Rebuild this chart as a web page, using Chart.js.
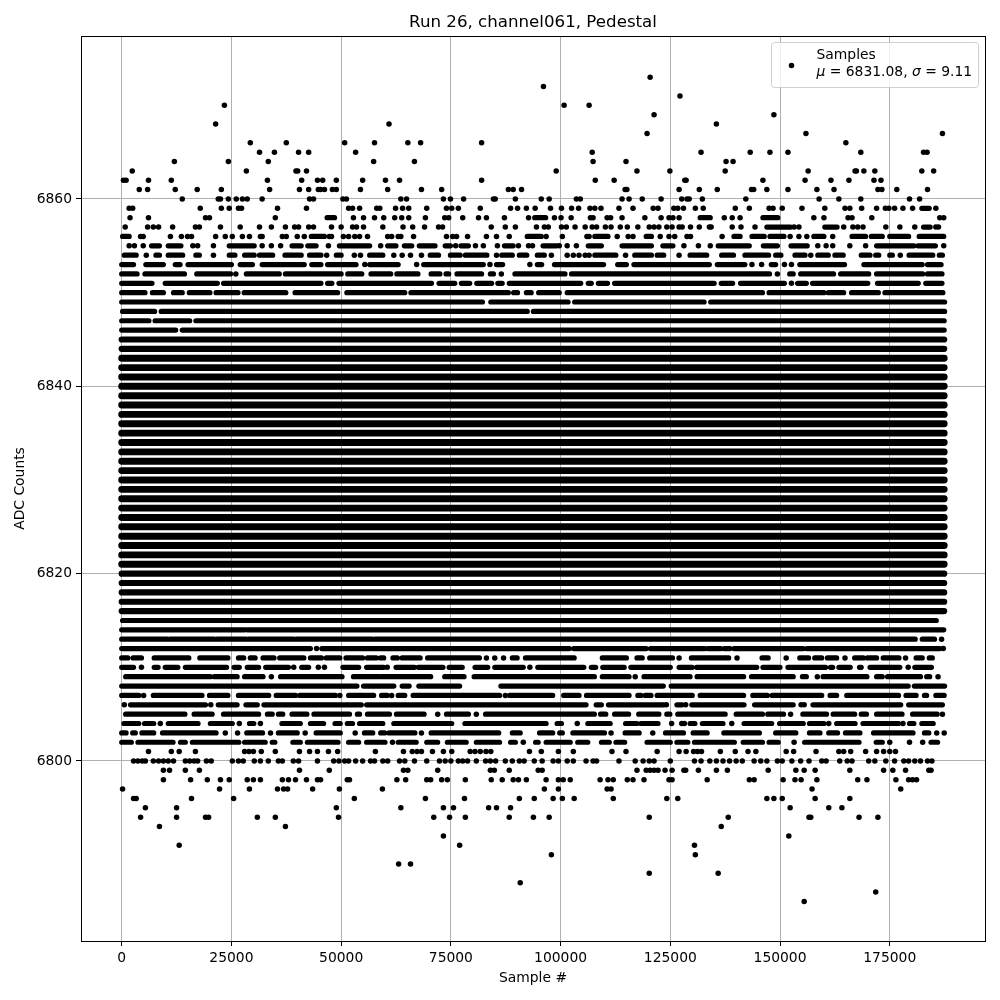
<!DOCTYPE html>
<html>
<head>
<meta charset="utf-8">
<title>Run 26, channel061, Pedestal</title>
<script src="https://cdn.jsdelivr.net/npm/chart.js@4"></script>
<style>
  html, body { margin: 0; padding: 0; background: #fff; }
  canvas { display: block; }
</style>
</head>
<body>
<canvas id="chart" width="1000" height="1000"></canvas>
<script>
// Labels and ticks
const chartTitle = "Run 26, channel061, Pedestal";
const xAxisLabel = "Sample #";
const yAxisLabel = "ADC Counts";
const seriesLabel = "Samples";
const meanLabel = "6831.08";
const sigmaLabel = "9.11";
const xTicks = [0, 25000, 50000, 75000, 100000, 125000, 150000, 175000];
const yTicks = [6800, 6820, 6840, 6860];

// A plain number is one dot, a pair is a run of dots that touch each other.

// rows that are unbroken over the whole run
const coreLevels = [6843, 6842, 6841, 6840, 6839, 6838, 6837, 6836, 6835, 6834, 6833, 6832, 6831, 6830,
  6829, 6828, 6827, 6826, 6825, 6824, 6823, 6822, 6821];
const solidLevels = [6845, 6844, 6820, 6819, 6818, 6817, 6816];
const fullRun = [0, 187.4];

// top edge of the band
const upperLevels = [6873, 6872, 6871, 6870, 6869, 6868, 6867, 6866, 6865, 6864, 6863, 6862, 6861, 6860,
  6859, 6858, 6857, 6856, 6855, 6854, 6853, 6852, 6851, 6850, 6849, 6848, 6847, 6846];
const upperRows = [
  [120.4],
  [96.1],
  [127.2],
  [23.4, 100.8, 106.5],
  [121.3, 148.6],
  [21.4, 60.9, 135.5],
  [119.7, 155.9, 187],
  [29.3, 37.5, 50.8, 57.6, 65.2, 68.1, 82, 165],
  [31.4, 34.8, 40.3, 42.6, 53.3, 107.2, 132, 143.2, 147.7, 151.8, 168.4, 182.7, 183.5],
  [12, 24.3, 33.4, 57.4, 66.7, 107.4, 114.9, 137.7, 139.3],
  [2.4, 28.4, 39.7, 40.1, 42.1, 99, 117.4, 124.9, 137.5, 156.4, 167.1, 167.4, 169.1, 171.6, 182.3, 185],
  [0.4, 1, 6.1, 11.3, 33.2, 41, 44.6, 45.8, 48.9, 54.9, 60.1, 63.3, 82, 107.9, 112.2, 128.3, 128.6, 146.1, 155.7, 161.6, 165.7, 171.4, 173],
  [4, 5.9, 12.2, 17.2, 22.7, 33.7, 40.5, 42.6, 44.8, 45.3, 46.2, 48, 48.9, 54.4, 60.6, 68.3, 72.9, 88.1, 89.2, 91.1, 114.7, 115.1, 127, 131.6, 135.7, 143.5, 144, 147, 151.8, 158.4, 162.3, 172.3, 173.2, 176.6, 183.6],
  [13.8, 22, 22.5, 24.3, 26.1, 27.5, 28.6, 32, 42.8, 43.7, 50.4, 51.2, 63.6, 64.9, 73.3, 74.9, 77.9, 84.7, 85.1, 89.7, 95.6, 97.4, 103.6, 104.5, 114, 115.6, 118.6, 122.9, 127.6, 128.8, 129.3, 132.3, 142.2, 158.9, 163.4, 168.4, 179.5, 181.8],
  [1.7, 2.5, 17.9, 22.7, 24.5, 26.6, 27.3, 35.5, 42.1, 51.7, 52.6, 54.2, 58.1, 58.8, 62.4, 64, 65.4, 69.5, 74, 75.2, 76.7, 81.7, 88.6, 90.2, 92.2, 94.2, 97.7, 100.2, 102.5, 104.1, 106.7, 107.8, 109.2, 113.3, 116.5, 121.1, 122.2, 125.8, 126.7, 128, 130.7, 132.5, 139.8, 143, 147.5, 148.4, 150.5, 155, 160.2, 164.8, 165.9, 168.6, 172, 174, 174.8, 176.1, 178, 180.2, [182.3, 184], 185.5],
  [1.9, 6.1, 19.1, 20, 35, [46.8, 48.5], 52.8, 55.1, 57.6, 59.7, 62.2, 63.8, 65.4, 69.2, 73.6, 74.5, 77.7, 81.3, 83.1, 87.2, 92.7, [94.1, 96.6], 98.6, 100.1, 102.4, 106.8, 107.4, 110.6, 111.4, 114, 119.2, 122.9, 124.7, 125.6, 127, [131.8, 134.1], 137.3, 139.1, 140.9, [146.1, 149.5], 157.7, 160, 165.5, 166.4, 170.9, 186.4, 187.3],
  [0.8, 5.9, 7.2, 8.4, 11.6, 16.8, 17.7, 22.5, 27, 31.4, 34.1, 37.3, 39.4, 40.3, 42.6, 43.7, 47.8, 50, 52.6, 53.5, 55.1, 59.5, 64.1, 66.3, 69, 72.2, 73.1, 84.2, 87.4, 89.7, 94.5, 96.3, 97.2, 100.2, 101.3, 103.3, 105.6, 107.2, 108.2, 110.2, 111.5, 113.6, 115.2, 117.6, 120.2, 121.3, 122.4, 124.2, 125.4, 127, 127.7, 129.6, 131.6, 133.9, 134.3, 139.1, 141.1, 144.3, [147, 152.4], 153.2, 154.3, [160.2, 163], 164.5, 166.6, 167.7, 168.9, 174.1, 177.3, 180.7, [182.7, 184.2], 185.5, 186.1],
  [[0.2, 1.7], 4.3, 4.9, 11.1, 13.6, 15, 15.9, 21.4, 23.6, 25.2, 27.5, 29.1, 31.6, 32, 36.6, 37.5, 40, 41.6, [43.2, 46.2], 47.3, 47.8, 50.5, 51.7, 53.1, 54.2, 56, 60.6, 61.5, 63, 63.6, 66.5, 74, 75.4, 76.3, 78.8, 83.1, 85.4, 88.3, [92.4, 95.6], 96.7, 100.4, 106, 106.5, [107.8, 110.8], 112.9, 115.4, 116.5, [119.5, 120.7], 122.7, 124.7, 126, 128.8, 129.6, 136.8, [139.5, 140.9], [143.6, 146.4], [147.7, 150.9], 152.3, 154.3, 156.1, [157.7, 160], 162, [166.4, 169.5], [170.8, 173.3], [175, 179.3], [181.7, 187.3]],
  [1.7, 2.9, 4.9, [6.8, 8.6], [10.6, 13.5], 16.2, 17.3, 20.9, [24.5, 30.2], 32, 34.1, 36.2, [38.8, 40.9], [42.4, 44.3], 47.1, [49.6, 56.5], 59, [60.6, 62.5], [64.4, 66.1], [67.8, 71.4], [73.7, 74.9], 76.1, [77.3, 79], 80.6, 82.4, 85.6, [87.2, 89.2], 90.4, 92.7, 93.6, [96, 99.1], 99.7, 101.5, 103.6, [106.3, 109.3], [114, 120.7], [123.3, 125.6], 128.1, 131.4, 134.1, [135.9, 143], [146.2, 149.4], [152.5, 156.2], 158.6, 160.5, 162, 165.9, 169.5, [172, 180.5], [181.4, 185.4], 187.3],
  [[0.6, 3.3], 5.6, [7.8, 8.6], [10.6, 13.9], [16.9, 17.7], 20.9, [24.5, 25.8], [28, 30.2], [31.4, 34.4], [37.2, 40.9], [42.8, 45.4], 46.7, [48.9, 50], 53, 54.4, [56.5, 59.5], 62, 63.9, 65.8, 68.3, [70.3, 72.2], [74.9, 77.1], [78.3, 83.2], 85.4, [86.6, 89], [90.6, 92.3], [94.7, 96.3], 97.9, 101.5, 102.9, 104.2, 105.6, 106.5, [107.8, 112.6], 114.8, [116.9, 120.7], [122, 123.5], 127, [129.5, 133.3], [136.7, 139.4], [142, 147.4], [149, 150.2], [153.4, 155.7], 157, [158.6, 161], [162.5, 164.4], [168.5, 170.5], [171.8, 172.5], [175, 175.6], 177.4, [179.4, 184.8], [186.3, 187]],
  [[0, 2.7], [5.5, 9.5], [12.2, 13.3], [15.1, 25], [27, 29.8], [32, 41.6], [43.3, 45.4], [46.9, 53.4], 55.4, [56.5, 63], 67.2, [68.8, 82.4], 83.9, [85.4, 86.8], 93, [94.7, 95.7], [98.6, 109.8], [113, 115], [116.7, 133.9], [135.7, 142], 143.6, 145.8, [148, 149], 151, 152.6, [154.5, 164.7], [169.1, 182.4], [183.6, 186.7]],
  [[0, 3.5], [5.3, 14.3], [17.1, 24.8], 26, [28.4, 35.9], [37.3, 50], [51.5, 54.7], [56.8, 61.3], [62.7, 67.5], [70.5, 72.5], [73.9, 74.5], [76.4, 82], [84, 84.7], 86.5, [89.6, 101], [102.5, 147.6], 149.4, [152.2, 153], [154.7, 162.2], [163.8, 170.2], [172, 182.5], [183.6, 186.9]],
  [[0, 6.9], [9.9, 21.8], [23.2, 45.4], [46.9, 47.9], [49.5, 70.6], [72.3, 75.9], [77.4, 79.3], [80.9, 84.3], [85.7, 86.7], [88.3, 104.6], [106.3, 107], [108.6, 110.7], [112.3, 135], [136.6, 139.2], [141, 151], 152.6, [154, 156], [157.4, 170], [172.2, 181.5], [183.2, 186.9]],
  [[0, 5.3], [7, 9.5], [11.8, 13.8], [15.4, 20.1], [21.5, 26.5], [27.9, 37.4], [39.5, 49.2], [51.3, 64.5], [65.9, 88.1], [89.3, 90.2], [92.2, 93.3], [95, 99.7], [101.5, 146], [147.5, 160], [161, 164.5], [166.3, 172.4], [173.9, 187.1]],
  [[0, 82.2], [84.1, 101.7], [103.2, 132.7], [134.2, 187.5]],
  [[0.2, 7.5], [9, 92.4], [93.8, 187.5]],
  [[0, 6.2], [7.6, 15.5], [16.9, 187.4]],
  [[0, 12.3], [13.8, 187.4]]
];

// bottom edge of the band
const lowerLevels = [6815, 6814, 6813, 6812, 6811, 6810, 6809, 6808, 6807, 6806, 6805, 6804, 6803, 6802, 6801,
  6800, 6799, 6798, 6797, 6796, 6795, 6794, 6793, 6792, 6791, 6790, 6789, 6788, 6787, 6786, 6785];
const lowerRows = [
  [[0.2, 98.6], [99.2, 185.6]],
  [[0, 28], [28.6, 187.3]],
  [[0, 10.4], [11, 21.1], [21.7, 28.3], [28.9, 39.2], [39.8, 57.1], [57.7, 180.8], [182.4, 185.2], 186.8],
  [[0, 43], 44.4, [45.6, 102], [103, 119.5], [120.5, 132.9], [133.6, 136.5], [137.3, 138.6], [139.5, 155.3], [156.1, 186.4], 187.2],
  [[0, 1.4], [2.6, 4.5], [7.4, 15.3], [17.8, 24.2], [26.6, 27.8], [29.3, 30.4], [32.2, 34.7], [36, 41.5], [43, 45.5], [46.6, 49.7], [51.1, 54.9], [56, 58], [59, 59.7], [61.8, 62.8], [63.9, 68], [69.7, 81.5], 83.1, 85, 87, [89, 90.1], [92, 103.1], [109.5, 115], [117.4, 118.6], [120.3, 125.5], 127, [129.8, 138.3], 140.2, [145.9, 147.3], 151.4, [154.5, 156.5], [157.9, 159.5], [160.8, 162.9], 164.8, [167, 169], [169.9, 172], [173.5, 177.1], 178.6, [181, 182.4], [184, 184.7]],
  [[0, 2.7], 4.5, [7.4, 8.3], [9.9, 12.8], [14.5, 23.9], [25.6, 26.8], [28.6, 31.2], [32.8, 38], 39.2, [41, 42.6], 44.8, 46.2, [50.4, 54], [55.8, 59.7], 60.5, [62.5, 66.7], [67.6, 73.2], [74.6, 77.6], [80.5, 83.4], [85, 91.5], 93, [94.8, 105.3], [107, 108], [109.6, 114.5], [116, 125], [127, 130], [131, 144.7], [146.1, 150], [151.8, 160.4], [161.5, 162], [163.4, 166], [168.1, 168.5], [170.5, 177.3], 179.2, [180.7, 184.5]],
  [[0.9, 20.2], [21.1, 26.3], [28, 32.2], 34.1, [36.2, 50.2], [52.8, 58.6], [59, 70.4], [73.6, 78], [80.3, 107.7], [109.5, 115.6], 117, [119, 129.5], [131.1, 141.7], [143.5, 153], [155.1, 156], 158.5, [159.8, 169.8], [172, 173.3], [174.5, 182], [183.4, 184.1], 186],
  [[0, 53.6], [55.1, 62], [63.9, 65.5], [67.7, 77], [86.4, 123.4], [125.2, 179.2], [180.6, 187.5]],
  [[0, 3.9], 5, [7.2, 18.3], [20, 24.2], [26.6, 33.5], [35.2, 39.6], [40.6, 48.7], 49.7, [51.7, 57.4], [59.2, 60.5], 61.5, [63, 64.5], [66.4, 86.1], 87.4, [88.4, 98.2], [100.7, 104.2], [105.9, 115.6], [117.6, 118.3], [119.3, 120.6], [122, 130], [131.8, 141.7], [143.8, 147.1], [148.2, 159.5], [161.4, 162.9], [165.2, 177], [178.7, 181], [182.9, 183.4], [185.5, 187.4]],
  [0.6, [2, 19.1], 20.3, [22, 26.3], [28.3, 30.9], [32.4, 54.6], [55.8, 105.8], [108.1, 109.3], [110.9, 123.5], 124.1, [126.5, 127.7], 128.5, [129.9, 141.8], [144.2, 153], 154.8, 155.5, [157.5, 177.5], [179.3, 187]],
  [[0.9, 14.4], [16.5, 20.6], [23.2, 31.2], [33.2, 34.3], [35.7, 36.7], [38.8, 42.2], [43.8, 51.9], [53.7, 54.2], [56, 61], [62.6, 68.9], 72, [74, 79], 80.8, [82.9, 107.7], [109.1, 110.3], [112.3, 115.5], [117.8, 122.4], [124.2, 124.9], [126.7, 137.5], [140, 146], [147.2, 150.8], 152.4, [155.2, 160.6], [162.1, 167], [168.5, 169.7], [172, 177.8], [180.2, 185.8], 187],
  [[0.5, 3.9], [5.2, 7.3], 8.8, [10.6, 17.4], [20.2, 25.2], 26.8, [29.1, 30.1], 31.6, [36.5, 40.7], [43, 46], [48.6, 49.8], [51.4, 52.6], [54.2, 59.5], [62, 75.2], [78.2, 96.7], [99.2, 100.2], 103.8, [106.2, 111.3], [114.8, 117.4], [118.3, 122.2], 125.3, 127.6, 128.2, [129.5, 130.6], [132.3, 137], 139, [141.8, 148.1], [149.9, 155.3], [156.7, 160], 161.1, [162.9, 167.1], [168.9, 177], 178, [179.5, 180.5], [182.3, 184.9]],
  [[0, 1], [2.5, 3.1], [4.6, 7.3], [9.3, 21.5], 23.6, 26.4, [28.5, 32.1], 33.9, [35.7, 40], 41.8, [44.3, 49.8], 53.2, [55.3, 57.2], [59, 59.9], [60.9, 66.8], 68.3, [70.5, 85.9], [89, 90.8], [95.2, 98.2], [99.8, 100.4], [102.8, 110], 111.5, [114.7, 117.9], 121, [123.9, 128], [130.2, 133.4], [137.2, 145.3], [149, 153.6], [156.7, 159.1], [161.1, 163.1], [164.9, 168.2], [171.3, 180.3], [182.9, 183.9], 185.7, 187.4],
  [[0, 2.2], [3.7, 11.7], [13.4, 14.5], [16.1, 26.7], [28, 32.7], [34.3, 34.9], [39, 40.7], [42.3, 49.3], [51.7, 54], [55.8, 60], 61.7, [63, 67.1], [69.5, 72], [74.2, 78.5], [80.8, 86.1], [88.6, 89.7], 91.5, [94.3, 94.9], [96.7, 102.2], [103.9, 106.2], [109.3, 111.1], [112.6, 114.6], [119.7, 125], [126.5, 129], [130.5, 139.6], [141.6, 146], [147.5, 149.6], 153.2, [155.6, 168], [171.9, 173.3], 175, 179.5, 182.5, [184.4, 185.9]],
  [6.1, 11.3, 13.1, 16.8, 28, 29, 30, 31.8, 35, 40.5, 42.8, 44.6, 47.1, 49.2, 57.8, 64.2, 66.2, 67.3, 68.3, 70.8, 73.3, 75.2, 79.4, 80.5, 81.7, 83, 84.1, 92.9, 95.6, 99.5, 102.9, 111.7, 114.9, 122, 127, 128.6, 130.3, 131.2, 132.1, 136.4, 139.8, 142.7, 144.5, 151.4, 153.1, 158.2, 163.4, 164.5, 166.1, 169.5, 172, 173.6, 175, 176.3],
  [2.7, 3.7, 4.7, 5.4, 7.2, 8.4, 9.5, 10.6, 11.8, 14.5, 15.5, 16.5, 17.3, 19.3, 20.4, 25.2, 26.6, 27.7, 30.2, 31.6, 33.4, 35.7, 36.6, 39.1, 40.3, 44.6, 48.3, 49.5, 50.8, 51.7, 53.3, 54.9, 56.7, 57.6, 59.5, 60.6, 63.3, 64.5, 66.7, 69.5, 72.4, 73.7, 75, 76.7, 77.7, 78.8, 80.8, 82.9, 84, 85.2, 87.4, 89, 90.6, 91.7, 94, 95.8, 98.3, 99.5, 101.5, 102.9, 105.8, 107.4, 108.2, 113.3, 117, 118.8, 120.2, 121.3, 125, 130.5, 132, 134, 135.5, 137, 138.5, 140, 141.4, 144.1, 145.6, 147, 149.4, 150.5, 152.7, 154.7, 156.6, 159.5, 160.5, 163.6, 165.3, 166.4, 170.2, 171.6, 174.1, 176.1, 178.2, 179.3, 180.7, 182, 183.6, 184.6],
  [9.5, 10.9, 14.5, 17.7, 40.5, 47.3, 64.2, 65.2, 72, 84, 84.9, 88.3, 94.9, 95.8, 117.4, 119.5, 120.4, 121.3, 122.2, 123.8, 125.4, 128.1, 128.5, 131.4, 135.5, 138, 147.3, 153.6, 155.5, 158, 165.9, 173.6, 175.7, 178.6, 183.9, 184.4],
  [9.5, 15.7, 19.5, 22.5, 24.5, 28.6, 30, 31.6, 36.6, 38, 39.6, 42.1, 44.6, 45.3, 51.4, 51.9, 62.7, 64.7, 69.5, 70.4, 72.9, 74.2, 78.3, 84.2, 86.7, 89.2, 90.4, 92.2, 96.7, 99.5, 100.6, 102.2, 109, 110.8, 112, 115.2, 116.5, 119, 124.7, 125.4, 133.4, 143, 144.1, 150.7, 153.4, 154.8, 158.4, 167.7, 169.8, 176.4, 179.3, 180.2, 181.1],
  [0.2, 22.3, 29.1, 35.5, 36.9, 37.8, 43.5, 49.6, 59.4, 96.3, 99.5, 110.6, 111.5, 157.3, 177.5],
  [2.7, 3.3, 15.9, 25.5, 53, 69.2, 78.1, 90.6, 94, 98.3, 100.4, 103.1, 112, 124.2, 126.7, 147, 148.6, 150.5, 158, 165.9],
  [5.4, 12.5, 48.9, 63.6, 73.3, 75.6, 83.6, 85.4, 88.6, 152.3, 161.1, 164.1],
  [4.3, 12.5, 19.1, 19.8, 30.9, 35, 49.4, 71.1, 74.7, 78.3, 88.3, 93.8, 97.4, 120.2, 138.2, 156.6, 157, 168, 172.3],
  [8.6, 37.3, 136.6],
  [73.3, 152],
  [13.1, 77, 130.5],
  [97.9, 130.7],
  [63.1, 65.8],
  [120.2, 135.9],
  [90.8],
  [171.8],
  [155.5]
];

// one dot per plain number
function dotsFrom(levels, rows) {
  const dots = [];
  levels.forEach((level, i) => {
    rows[i].forEach(entry => {
      if (!Array.isArray(entry)) {
        dots.push({ x: entry * 1000, y: level });
      }
    });
  });
  return dots;
}

// line pieces for the runs, NaN breaks the line between two runs
function runsFrom(levels, rows) {
  const pts = [];
  levels.forEach((level, i) => {
    rows[i].forEach(entry => {
      if (Array.isArray(entry)) {
        pts.push({ x: entry[0] * 1000, y: level }, { x: entry[1] * 1000, y: level }, { x: NaN, y: NaN });
      }
    });
  });
  return pts;
}

function runDataset(points, width) {
  return {
    label: seriesLabel,
    data: points,
    showLine: true,
    borderColor: "#000",
    backgroundColor: "#000",
    borderWidth: width,
    borderCapStyle: "round",
    borderJoinStyle: "round",
    pointRadius: 0,
    spanGaps: false,
    tension: 0
  };
}

const allDots = dotsFrom(upperLevels, upperRows).concat(dotsFrom(lowerLevels, lowerRows));
const brokenRuns = runsFrom(upperLevels, upperRows).concat(runsFrom(lowerLevels, lowerRows));

// frame on all four sides and the matplotlib style legend box
const framePlugin = {
  id: "frameAndLegend",
  afterDraw(chart) {
    const ctx = chart.ctx;
    const a = chart.chartArea;
    ctx.save();
    ctx.strokeStyle = "#000";
    ctx.lineWidth = 1;
    ctx.strokeRect(Math.round(a.left) + 0.5, Math.round(a.top) + 0.5, Math.round(a.right - a.left), Math.round(a.bottom - a.top));

    ctx.beginPath();
    ctx.roundRect(771.5, 42.5, 207, 45, 3);
    ctx.fillStyle = "rgba(255,255,255,0.8)";
    ctx.fill();
    ctx.strokeStyle = "#d0d0d0";
    ctx.lineWidth = 1;
    ctx.stroke();

    ctx.fillStyle = "#000";
    ctx.beginPath();
    ctx.arc(791.5, 65.5, 2.75, 0, Math.PI * 2);
    ctx.fill();

    ctx.textBaseline = "alphabetic";
    ctx.textAlign = "left";
    const plain = "13.89px 'DejaVu Sans'";
    const slanted = "oblique 13.89px 'DejaVu Sans'";
    ctx.font = plain;
    ctx.fillText(seriesLabel, 816.5, 59);
    const parts = [["μ", slanted], [" = " + meanLabel + ", ", plain], ["σ", slanted], [" = " + sigmaLabel, plain]];
    let x = 816.5;
    parts.forEach(p => {
      ctx.font = p[1];
      ctx.fillText(p[0], x, 76);
      x += ctx.measureText(p[0]).width;
    });
    ctx.restore();
  }
};

new Chart(document.getElementById("chart").getContext("2d"), {
  type: "scatter",
  data: {
    datasets: [
      { label: seriesLabel, data: allDots, backgroundColor: "#000", borderWidth: 0, pointRadius: 2.75 },
      runDataset(brokenRuns, 5.2),
      runDataset(runsFrom(solidLevels, solidLevels.map(() => [fullRun])), 6.2),
      runDataset(runsFrom(coreLevels, coreLevels.map(() => [fullRun])), 6.9)
    ]
  },
  plugins: [framePlugin],
  options: {
    responsive: false,
    animation: false,
    events: [],
    layout: { padding: { top: 0, right: 15, bottom: 0, left: 0 } },
    plugins: {
      legend: { display: false },
      tooltip: { enabled: false },
      title: {
        display: true,
        text: chartTitle,
        fullSize: false,
        color: "#000",
        font: { family: "DejaVu Sans", size: 16.67, weight: "normal" },
        padding: { top: 13, bottom: 3 }
      }
    },
    scales: {
      x: {
        type: "linear",
        min: -9274,
        max: 196700,
        afterFit(scale) { scale.height = 59; },
        afterBuildTicks(scale) { scale.ticks = xTicks.map(v => ({ value: v })); },
        grid: { color: "#b0b0b0", lineWidth: 1, tickColor: "#000", tickLength: 5 },
        border: { color: "#000", width: 1 },
        ticks: {
          color: "#000",
          autoSkip: false,
          maxRotation: 0,
          padding: 4,
          font: { family: "DejaVu Sans", size: 13.89 },
          callback: v => String(v)
        },
        title: {
          display: true,
          text: xAxisLabel,
          color: "#000",
          font: { family: "DejaVu Sans", size: 13.89 },
          padding: { top: 4, bottom: 13 }
        }
      },
      y: {
        type: "linear",
        min: 6780.78,
        max: 6877.4,
        afterFit(scale) { scale.width = 81; },
        afterBuildTicks(scale) { scale.ticks = yTicks.map(v => ({ value: v })); },
        grid: { color: "#b0b0b0", lineWidth: 1, tickColor: "#000", tickLength: 5 },
        border: { color: "#000", width: 1 },
        ticks: {
          color: "#000",
          autoSkip: false,
          padding: 4,
          font: { family: "DejaVu Sans", size: 13.89 },
          callback: v => String(v)
        },
        title: {
          display: true,
          text: yAxisLabel,
          color: "#000",
          font: { family: "DejaVu Sans", size: 13.89 },
          padding: { top: 12, bottom: 4 }
        }
      }
    }
  }
});
</script>
</body>
</html>
